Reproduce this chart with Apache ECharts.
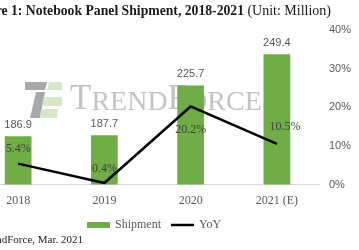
<!DOCTYPE html>
<html>
<head>
<meta charset="utf-8">
<script src="https://cdn.jsdelivr.net/npm/echarts@6/dist/echarts.min.js"></script>
<style>
  html, body { margin: 0; padding: 0; background: #fff; overflow: hidden; }
  #wrap { position: relative; width: 359px; height: 250px; overflow: hidden; }
  #chart { position: absolute; left: -25px; top: 0; width: 384px; height: 250px; }
</style>
</head>
<body>
<div id="wrap"><div id="chart"></div></div>
<script>
// data
var years = ['2018', '2019', '2020', '2021 (E)'];
var shipment = [186.9, 187.7, 225.7, 249.4];
var yoy = [5.4, 0.4, 20.2, 10.5];
var pctTicks = [0, 10, 20, 30, 40];

var OX = 25; // chart div is shifted left by this much
var serif = '"Liberation Serif", "DejaVu Serif", serif';
var sans = '"Liberation Sans", "DejaVu Sans", sans-serif';

var yoyLabels = [
  { position: 'top', distance: 9 },
  { position: 'top', distance: 8 },
  { position: 'bottom', distance: 17 },
  { position: 'top', distance: 11, offset: [8, 0] }
];

var myChart = echarts.init(document.getElementById('chart'));

var option = {
  animation: false,
  grid: { left: 0, top: 30, width: 345, height: 154.5 },
  legend: {
    left: 82 + OX, top: 214,
    itemWidth: 23, itemHeight: 6, itemGap: 10,
    textStyle: { fontFamily: serif, fontSize: 12, color: '#595959' },
    data: [
      { name: 'Shipment', icon: 'rect' },
      { name: 'YoY', icon: 'path://M0,0 L23,0 L23,2.5 L0,2.5 Z' }
    ]
  },
  xAxis: {
    type: 'category',
    data: years,
    axisLine: { lineStyle: { color: '#d9d9d9' } },
    axisTick: { show: false },
    axisLabel: { fontFamily: serif, fontSize: 12, color: '#595959', margin: 10 }
  },
  yAxis: [
    { type: 'value', min: 150, max: 268, show: false },
    {
      type: 'value', position: 'right', min: 0, max: 40, interval: 10,
      axisLine: { show: false }, axisTick: { show: false }, splitLine: { show: false },
      axisLabel: { formatter: '{value}%', fontFamily: sans, fontSize: 11, color: '#595959', margin: 9 }
    }
  ],
  graphic: [
    // title (left part cut off by the frame)
    {
      type: 'text', x: 331 + OX, y: 11, z: 10,
      style: {
        text: '{b|Figure 1: Notebook Panel Shipment, 2018-2021} {n|(Unit: Million)}',
        align: 'right', verticalAlign: 'middle',
        rich: {
          b: { fontFamily: serif, fontSize: 13.7, fontWeight: 'bold', fill: '#1a1a1a' },
          n: { fontFamily: serif, fontSize: 14, fill: '#1a1a1a' }
        }
      }
    },
    // source (cut off at the left)
    {
      type: 'text', x: 83 + OX, y: 240, z: 10,
      style: { text: 'Source: TrendForce, Mar. 2021', align: 'right', verticalAlign: 'middle',
        fontFamily: serif, fontSize: 11, fill: '#1a1a1a' }
    },
    // watermark logo
    {
      type: 'group', x: OX, y: 0, z: -1, silent: true,
      children: [
        { type: 'polygon', shape: { points: [[25, 82], [47, 82], [45, 90], [25, 90]] }, style: { fill: '#a8a8a8' } },
        { type: 'polygon', shape: { points: [[36, 92], [45, 92], [40, 118], [30, 118]] }, style: { fill: '#a8a8a8' } },
        { type: 'polygon', shape: { points: [[49, 82], [62, 82], [62, 90], [47, 90]] }, style: { fill: '#d6e7c8' } },
        { type: 'polygon', shape: { points: [[44, 97], [62, 97], [62, 106], [42, 106]] }, style: { fill: '#d6e7c8' } },
        { type: 'polygon', shape: { points: [[41, 109], [58, 109], [57, 118], [40, 118]] }, style: { fill: '#d6e7c8' } },
        {
          type: 'text', x: 70, y: 117,
          style: {
            text: '{a|T}{b|REND}{a|F}{b|ORCE}',
            verticalAlign: 'bottom',
            rich: {
              a: { fontFamily: serif, fontSize: 35, fill: '#c4c4c4', verticalAlign: 'bottom', lineHeight: 36 },
              b: { fontFamily: serif, fontSize: 28, fill: '#c4c4c4', verticalAlign: 'bottom', lineHeight: 36 }
            }
          }
        }
      ]
    }
  ],
  series: [
    {
      name: 'Shipment', type: 'bar', yAxisIndex: 0,
      data: shipment,
      barWidth: '31%',
      itemStyle: { color: '#70ad47' },
      label: { show: true, position: 'top', distance: 6, fontFamily: sans, fontSize: 11, color: '#595959' }
    },
    {
      name: 'YoY', type: 'line', yAxisIndex: 1,
      data: yoy.map(function (v, i) { return { value: v, label: yoyLabels[i] }; }),
      showSymbol: true, symbol: 'circle', symbolSize: 0,
      lineStyle: { color: '#000', width: 2.5 },
      itemStyle: { color: '#000' },
      label: { show: true, formatter: '{c}%', fontFamily: serif, fontSize: 12, color: '#404040' },
      z: 5
    }
  ]
};

myChart.setOption(option);
</script>
</body>
</html>
